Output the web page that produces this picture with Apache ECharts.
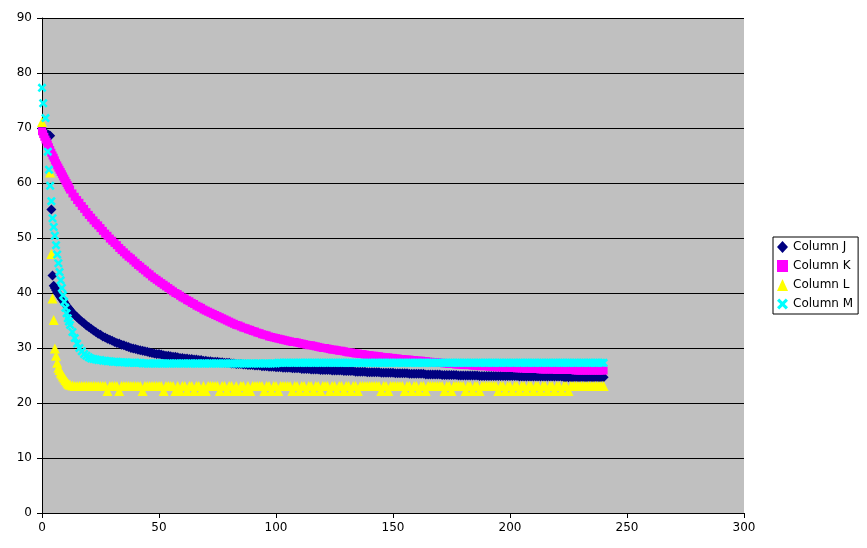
<!DOCTYPE html>
<html>
<head>
<meta charset="utf-8">
<script src="https://cdn.jsdelivr.net/npm/echarts@6/dist/echarts.min.js"></script>
<style>
html,body{margin:0;padding:0;background:#fff;}
#chart{width:867px;height:548px;}
</style>
</head>
<body>
<div id="chart"></div>
<script>
// shared x column
var xValues = [
  0,0.5,1,1.5,2,2.5,3,3.5,4,4.5,
  5,5.5,6,6.5,7,7.5,8,8.5,9,9.5,
  10,10.5,11,11.5,12,
  13,14,15,16,17,18,19,20,21,22,
  23,24,25,26,27,28,29,30,31,32,
  33,34,35,36,37,38,39,40,41,42,
  43,44,45,46,47,48,49,50,51,52,
  53,54,55,56,57,58,59,60,61,62,
  63,64,65,66,67,68,69,70,71,72,
  73,74,75,76,77,78,79,80,81,82,
  83,84,85,86,87,88,89,90,91,92,
  93,94,95,96,97,98,99,100,101,102,
  103,104,105,106,107,108,109,110,111,112,
  113,114,115,116,117,118,119,120,121,122,
  123,124,125,126,127,128,129,130,131,132,
  133,134,135,136,137,138,139,140,141,142,
  143,144,145,146,147,148,149,150,151,152,
  153,154,155,156,157,158,159,160,161,162,
  163,164,165,166,167,168,169,170,171,172,
  173,174,175,176,177,178,179,180,181,182,
  183,184,185,186,187,188,189,190,191,192,
  193,194,195,196,197,198,199,200,201,202,
  203,204,205,206,207,208,209,210,211,212,
  213,214,215,216,217,218,219,220,221,222,
  223,224,225,226,227,228,229,230,231,232,
  233,234,235,236,237,238,239,240
];

var columnJ = [
  69.9,null,null,null,68.9,68.8,68.7,68.6,55.2,43.2,
  41.3,40.9,40.5,40.1,39.8,39.5,39.2,38.9,38.6,38.3,
  38.0,37.7,37.4,37.2,36.9,
  36.4,36.0,35.6,35.2,34.8,34.5,34.1,33.8,33.5,33.2,
  32.9,32.6,32.4,32.1,31.9,31.7,31.5,31.3,31.1,30.9,
  30.8,30.6,30.5,30.3,30.2,30.0,29.9,29.8,29.7,29.6,
  29.5,29.4,29.3,29.2,29.1,29.0,28.9,28.9,28.8,28.7,
  28.6,28.6,28.5,28.4,28.4,28.3,28.2,28.2,28.1,28.1,
  28.0,28.0,27.9,27.9,27.8,27.8,27.7,27.7,27.6,27.6,
  27.5,27.5,27.5,27.4,27.4,27.3,27.3,27.3,27.2,27.2,
  27.1,27.1,27.1,27.0,27.0,26.9,26.9,26.9,26.8,26.8,
  26.8,26.7,26.7,26.7,26.6,26.6,26.6,26.5,26.5,26.5,
  26.4,26.4,26.4,26.4,26.3,26.3,26.3,26.3,26.2,26.2,
  26.2,26.2,26.1,26.1,26.1,26.1,26.0,26.0,26.0,26.0,
  26.0,25.9,25.9,25.9,25.9,25.9,25.8,25.8,25.8,25.8,
  25.8,25.7,25.7,25.7,25.7,25.7,25.6,25.6,25.6,25.6,
  25.6,25.6,25.5,25.5,25.5,25.5,25.5,25.5,25.4,25.4,
  25.4,25.4,25.4,25.4,25.3,25.3,25.3,25.3,25.3,25.3,
  25.3,25.2,25.2,25.2,25.2,25.2,25.2,25.2,25.1,25.1,
  25.1,25.1,25.1,25.1,25.1,25.0,25.0,25.0,25.0,25.0,
  25.0,25.0,25.0,25.0,24.9,24.9,24.9,24.9,24.9,24.9,
  24.9,24.9,24.9,24.9,24.9,24.9,24.9,24.9,24.9,24.9,
  24.9,24.8,24.8,24.8,24.8,24.8,24.8,24.8,24.8,24.8,
  24.8,24.8,24.8,24.8,24.8,24.8,24.8,24.8,24.8,24.8,
  24.7,24.7,24.7,24.7,24.7,24.7,24.7,24.7,24.7,24.7,
  24.7,24.7,24.7,24.7,24.7,24.7,24.7,24.7
];

var columnK = [
  69.4,68.9,68.4,67.9,67.5,67.0,66.5,66.0,65.5,65.0,
  64.6,64.1,63.6,63.2,62.8,62.4,62.0,61.6,61.2,60.8,
  60.4,60.0,59.6,59.2,58.8,
  58.1,57.5,56.9,56.4,55.8,55.3,54.7,54.2,53.7,53.2,
  52.7,52.3,51.8,51.3,50.8,50.4,49.9,49.5,49.1,48.7,
  48.2,47.8,47.4,47.0,46.6,46.3,45.9,45.5,45.1,44.8,
  44.4,44.1,43.7,43.4,43.0,42.7,42.4,42.1,41.8,41.5,
  41.2,40.9,40.6,40.3,40.0,39.8,39.5,39.2,39.0,38.7,
  38.5,38.2,38.0,37.7,37.5,37.3,37.0,36.8,36.6,36.4,
  36.2,36.0,35.8,35.6,35.4,35.2,35.0,34.8,34.6,34.4,
  34.2,34.1,33.9,33.7,33.6,33.4,33.3,33.1,33.0,32.8,
  32.7,32.5,32.4,32.3,32.1,32.0,31.9,31.8,31.7,31.6,
  31.5,31.4,31.3,31.2,31.1,31.1,31.0,30.9,30.8,30.7,
  30.6,30.5,30.5,30.4,30.3,30.2,30.1,30.0,30.0,29.9,
  29.8,29.7,29.7,29.6,29.5,29.5,29.4,29.3,29.2,29.2,
  29.1,29.0,29.0,28.9,28.9,28.8,28.7,28.7,28.6,28.6,
  28.5,28.5,28.4,28.3,28.3,28.3,28.2,28.2,28.1,28.1,
  28.0,28.0,27.9,27.9,27.9,27.8,27.8,27.7,27.7,27.7,
  27.6,27.6,27.5,27.5,27.4,27.4,27.4,27.3,27.3,27.2,
  27.2,27.1,27.1,27.1,27.0,27.0,27.0,26.9,26.9,26.9,
  26.9,26.8,26.8,26.8,26.7,26.7,26.7,26.7,26.6,26.6,
  26.6,26.5,26.5,26.5,26.5,26.4,26.4,26.4,26.4,26.4,
  26.3,26.3,26.3,26.3,26.2,26.2,26.2,26.2,26.2,26.2,
  26.1,26.1,26.1,26.1,26.1,26.1,26.1,26.0,26.0,26.0,
  26.0,26.0,26.0,26.0,26.0,25.9,25.9,25.9,25.9,25.9,
  25.9,25.9,25.9,25.9,25.9,25.9,25.9,25.9
];

var columnL = [
  71.1,null,null,null,null,null,null,61.9,47.1,39.0,
  35.1,29.9,28.6,27.3,26.4,26.0,25.5,25.2,24.8,24.5,
  24.2,23.9,23.6,23.4,23.3,
  23.2,23.1,23.1,23.1,23.1,23.1,23.1,23.1,23.1,23.1,
  23.1,23.1,23.1,23.1,23.1,22.2,23.1,23.1,23.1,23.1,
  22.2,23.1,23.1,23.1,23.1,23.1,23.1,23.1,23.1,23.1,
  22.2,23.1,23.1,23.1,23.1,23.1,23.1,23.1,23.1,22.2,
  23.1,23.1,23.1,23.1,22.2,23.1,22.2,23.1,23.1,22.2,
  23.1,23.1,22.2,23.1,23.1,22.2,23.1,22.2,23.1,23.1,
  23.1,23.1,23.1,22.2,23.1,23.1,22.2,23.1,23.1,22.2,
  23.1,22.2,23.1,23.1,22.2,23.1,22.2,23.1,23.1,23.1,
  23.1,23.1,22.2,23.1,23.1,22.2,23.1,23.1,22.2,23.1,
  23.1,23.1,23.1,23.1,22.2,23.1,23.1,22.2,23.1,23.1,
  22.2,23.1,23.1,22.2,23.1,23.1,22.2,23.1,23.1,23.1,
  22.2,23.1,23.1,22.2,23.1,23.1,22.2,23.1,23.1,22.2,
  23.1,23.1,22.2,23.1,23.1,23.1,23.1,23.1,23.1,23.1,
  23.1,23.1,22.2,23.1,23.1,22.2,23.1,23.1,23.1,23.1,
  23.1,23.1,22.2,23.1,23.1,22.2,23.1,23.1,22.2,23.1,
  23.1,22.2,23.1,23.1,23.1,23.1,23.1,23.1,23.1,22.2,
  23.1,23.1,22.2,23.1,23.1,23.1,23.1,23.1,22.2,23.1,
  23.1,22.2,23.1,23.1,22.2,23.1,23.1,23.1,23.1,23.1,
  23.1,23.1,22.2,23.1,23.1,22.2,23.1,23.1,22.2,23.1,
  23.1,22.2,23.1,23.1,22.2,23.1,23.1,22.2,23.1,23.1,
  22.2,23.1,23.1,22.2,23.1,23.1,22.2,23.1,23.1,22.2,
  23.1,23.1,22.2,23.1,23.1,23.1,23.1,23.1,23.1,23.1,
  23.1,23.1,23.1,23.1,23.1,23.1,23.1,23.1
];

var columnM = [
  77.3,74.5,null,71.8,null,65.7,62.4,59.5,56.7,53.6,
  52.0,50.4,48.7,47.0,45.4,43.8,42.3,40.9,39.6,38.4,
  37.3,36.3,35.4,34.8,34.2,
  32.9,31.8,30.8,30.0,29.4,28.9,28.6,28.3,28.1,28.0,
  27.9,27.8,27.8,27.7,27.7,27.6,27.6,27.5,27.5,27.5,
  27.4,27.4,27.4,27.4,27.3,27.3,27.3,27.3,27.3,27.3,
  27.2,27.2,27.2,27.2,27.2,27.2,27.2,27.2,27.2,27.2,
  27.2,27.2,27.2,27.2,27.2,27.2,27.2,27.2,27.2,27.2,
  27.2,27.2,27.2,27.2,27.2,27.2,27.2,27.2,27.2,27.2,
  27.2,27.2,27.2,27.2,27.2,27.2,27.2,27.2,27.2,27.2,
  27.2,27.2,27.2,27.2,27.2,27.2,27.2,27.2,27.2,27.2,
  27.2,27.2,27.2,27.2,27.2,27.2,27.2,27.2,27.3,27.3,
  27.3,27.3,27.3,27.3,27.3,27.3,27.3,27.3,27.3,27.3,
  27.3,27.3,27.3,27.3,27.3,27.3,27.3,27.3,27.3,27.3,
  27.3,27.3,27.3,27.3,27.3,27.3,27.3,27.3,27.3,27.3,
  27.3,27.3,27.3,27.3,27.3,27.3,27.3,27.3,27.3,27.3,
  27.3,27.3,27.3,27.3,27.3,27.3,27.3,27.3,27.3,27.3,
  27.3,27.3,27.3,27.3,27.3,27.3,27.3,27.3,27.3,27.3,
  27.3,27.3,27.3,27.3,27.3,27.3,27.3,27.3,27.3,27.3,
  27.3,27.3,27.3,27.3,27.3,27.3,27.3,27.3,27.3,27.3,
  27.3,27.3,27.3,27.3,27.3,27.3,27.3,27.3,27.3,27.3,
  27.3,27.3,27.3,27.3,27.3,27.3,27.3,27.3,27.3,27.3,
  27.3,27.3,27.3,27.3,27.3,27.3,27.3,27.3,27.3,27.3,
  27.3,27.3,27.3,27.3,27.3,27.3,27.3,27.3,27.3,27.3,
  27.3,27.3,27.3,27.3,27.3,27.3,27.3,27.3,27.3,27.3,
  27.3,27.3,27.3,27.3,27.3,27.3,27.3,27.3
];

var seriesNames = ['Column J', 'Column K', 'Column L', 'Column M'];
var xTicks = [0, 50, 100, 150, 200, 250, 300];
var yTicks = [0, 10, 20, 30, 40, 50, 60, 70, 80, 90];

var crossPath = 'path://M0,2 L2,0 L5,3 L8,0 L10,2 L7,5 L10,8 L8,10 L5,7 L2,10 L0,8 L3,5 Z';

function pairs(ys) {
  var out = [];
  var n = Math.min(xValues.length, ys.length);
  for (var i = 0; i < n; i++) {
    if (ys[i] !== null && ys[i] !== undefined) out.push([xValues[i], ys[i]]);
  }
  return out;
}

var font = 'DejaVu Sans, Verdana, sans-serif';
var chart = echarts.init(document.getElementById('chart'), null, {renderer: 'canvas'});
chart.setOption({
  animation: false,
  backgroundColor: '#ffffff',
  grid: {
    left: 42, right: 123, top: 18, bottom: 35,
    show: true, backgroundColor: '#c0c0c0', borderWidth: 0
  },
  xAxis: {
    type: 'value',
    min: xTicks[0], max: xTicks[xTicks.length - 1], interval: 50,
    axisLine: {show: true, onZero: false, lineStyle: {color: '#000', width: 1}},
    axisTick: {show: true, length: 5, lineStyle: {color: '#000'}},
    axisLabel: {color: '#000', fontSize: 12, fontFamily: font, margin: 9},
    splitLine: {show: false}
  },
  yAxis: {
    type: 'value',
    min: yTicks[0], max: yTicks[yTicks.length - 1], interval: 10,
    axisLine: {show: true, onZero: false, lineStyle: {color: '#000', width: 1}},
    axisTick: {show: true, length: 5, lineStyle: {color: '#000'}},
    axisLabel: {color: '#000', fontSize: 12, fontFamily: font, margin: 10},
    splitLine: {show: true, lineStyle: {color: '#000', width: 1}}
  },
  legend: {
    orient: 'vertical',
    left: 773, top: 237,
    padding: [4, 5, 4, 4],
    itemGap: 7,
    itemWidth: 11, itemHeight: 12,
    itemTextGap: 4,
    backgroundColor: '#ffffff',
    borderColor: '#000', borderWidth: 1,
    textStyle: {color: '#000', fontSize: 12, fontFamily: font, lineHeight: 12},
    data: [
      {name: seriesNames[0], icon: 'diamond'},
      {name: seriesNames[1], icon: 'rect'},
      {name: seriesNames[2], icon: 'triangle'},
      {name: seriesNames[3], icon: crossPath}
    ]
  },
  series: [
    {name: seriesNames[0], type: 'scatter', symbol: 'diamond', symbolSize: 10,
     itemStyle: {color: '#000080', opacity: 1}, data: pairs(columnJ)},
    {name: seriesNames[1], type: 'scatter', symbol: 'rect', symbolSize: 8,
     itemStyle: {color: '#ff00ff', opacity: 1}, data: pairs(columnK)},
    {name: seriesNames[2], type: 'scatter', symbol: 'triangle', symbolSize: 10,
     itemStyle: {color: '#ffff00', opacity: 1}, data: pairs(columnL)},
    {name: seriesNames[3], type: 'scatter', symbol: crossPath, symbolSize: 9,
     itemStyle: {color: '#00ffff', opacity: 1}, data: pairs(columnM)}
  ]
});
</script>
</body>
</html>
